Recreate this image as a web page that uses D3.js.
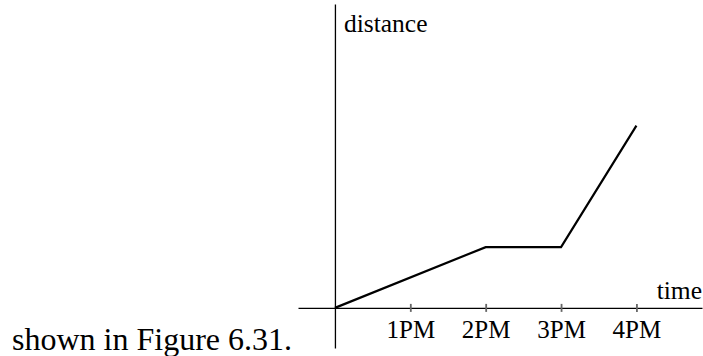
<!DOCTYPE html>
<html>
<head>
<meta charset="utf-8">
<script src="https://cdn.jsdelivr.net/npm/d3@7"></script>
<style>
  body { margin: 0; background: #fff; }
  svg text { font-family: "Liberation Serif", "Times New Roman", serif; fill: #000; }
</style>
</head>
<body>
<div id="plot_area"></div>
<script>
// data: hours after noon, distance (arbitrary units)
var hours = [0, 2, 3, 4];
var distance = [0, 2, 2, 6];
var tickHours = [1, 2, 3, 4];
var tickLabels = ["1PM", "2PM", "3PM", "4PM"];

var width = 703, height = 356;

var svg = d3.select("#plot_area")
  .append("svg")
    .attr("width", width)
    .attr("height", height);

// scales (domain stretched past the data so the axis lines run long)
var x = d3.scaleLinear()
  .domain([-0.49, 4.87])
  .range([298, 702]);

var y = d3.scaleLinear()
  .domain([-1.32, 10])
  .range([348, 4]);

// X axis
var xAxis = svg.append("g")
  .attr("transform", "translate(0," + y(0) + ")")
  .call(d3.axisBottom(x)
    .tickValues(tickHours)
    .tickFormat(function(d, i) { return tickLabels[i]; })
    .tickSizeOuter(0));

xAxis.select(".domain").attr("stroke", "#000").attr("stroke-width", 1.3);
xAxis.selectAll(".tick line")
  .attr("y1", -4).attr("y2", 4)
  .attr("stroke", "#666").attr("stroke-width", 1.8);
xAxis.selectAll(".tick text")
  .attr("y", 30).attr("dy", 0)
  .style("font-size", "25px")
  .style("font-family", "Liberation Serif, serif")
  .attr("fill", "#000");

// Y axis
var yAxis = svg.append("g")
  .attr("transform", "translate(" + x(0) + ",0)")
  .call(d3.axisLeft(y).tickValues([]).tickSizeOuter(0));

yAxis.select(".domain").attr("stroke", "#000").attr("stroke-width", 1.3);

// axis labels
svg.append("text")
  .attr("x", x(0) + 9)
  .attr("y", 32)
  .style("font-size", "25.5px")
  .text("distance");

svg.append("text")
  .attr("text-anchor", "end")
  .attr("x", 702)
  .attr("y", y(0) - 9)
  .style("font-size", "25.5px")
  .text("time");

// the journey
var line = d3.line()
  .x(function(d, i) { return x(hours[i]); })
  .y(function(d) { return y(d); });

svg.append("path")
  .datum(distance)
  .attr("fill", "none")
  .attr("stroke", "#000")
  .attr("stroke-width", 2.2)
  .attr("stroke-linejoin", "miter")
  .attr("d", line);

// surrounding caption text
svg.append("text")
  .attr("x", 12)
  .attr("y", 350)
  .style("font-size", "32px")
  .text("shown in Figure 6.31.");
</script>
</body>
</html>
